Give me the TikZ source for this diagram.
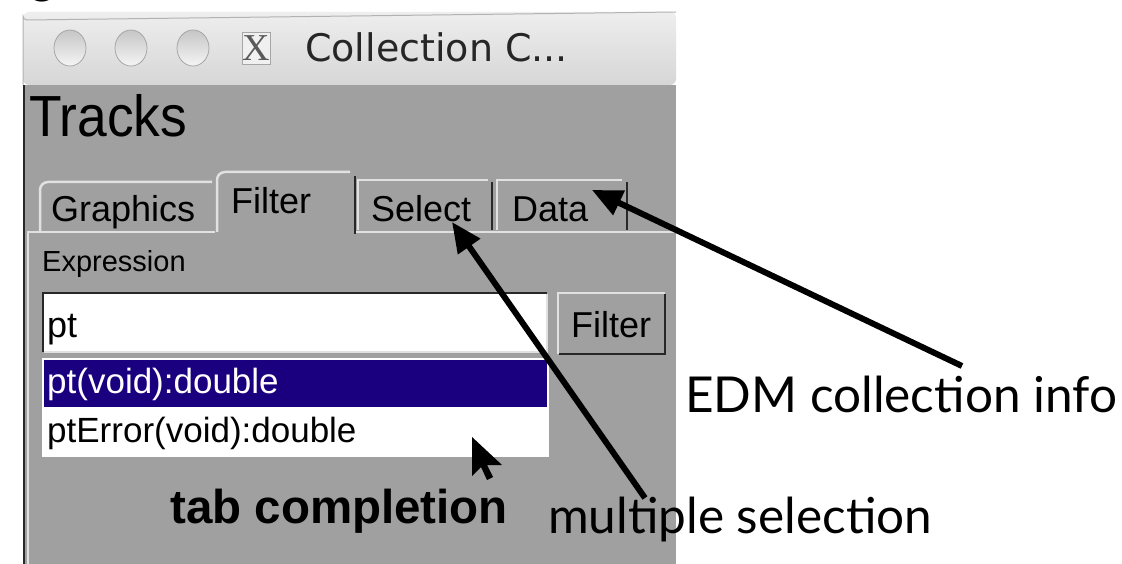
\documentclass[tikz,border=0pt]{standalone}
\usepackage{fontspec}
\setmainfont{Liberation Sans}
\newfontfamily\gill{Lato}
\newfontfamily\titlef{DejaVu Sans}
\newfontfamily\serifx{Liberation Serif}
\newfontfamily\narrowf[FakeStretch=0.92]{Liberation Sans}
\usetikzlibrary{arrows.meta}
\definecolor{panelgray}{RGB}{160,160,160}
\definecolor{lightedge}{RGB}{225,225,225}
\definecolor{darkedge}{RGB}{40,40,40}
\definecolor{selnavy}{RGB}{26,0,126}
\definecolor{titletop}{RGB}{238,238,238}
\definecolor{titlebot}{RGB}{214,214,214}
\tikzset{
  x=1pt, y=-1pt,
  lbl/.style={inner sep=0pt, anchor=base west},
  tabtxt/.style={lbl, font=\fontsize{36}{36}\selectfont},
  ann/.style={lbl, font=\gill\fontsize{49.5}{49.5}\selectfont},
  pointer/.style={line width=6pt, -{Triangle[length=30pt,width=26pt]}},
  light/.style={draw=lightedge, line width=2.5pt},
  dark/.style={draw=darkedge, line width=2.5pt},
  lamp/.style={top color=gray!45, bottom color=gray!8}
}
\begin{document}
\begin{tikzpicture}
\useasboundingbox (0,0) rectangle (1122,564);
\fill[white] (0,0) rectangle (1122,564);
% cut-off text at top
\node[lbl, font=\gill\fontsize{47}{47}\selectfont] (topg) at (30,-6) {g};
% title bar
\shade[top color=titletop, bottom color=titlebot, rounded corners=6pt]
  (23,85) -- (23,12) -- (676,12) -- (676,85) -- cycle;
\draw[gray!60, line width=1pt] (23,85) -- (23,16) arc (180:270:4pt) -- (676,12);
% body
\fill[panelgray] (23,85) rectangle (676,564);
\draw[darkedge, line width=2pt] (24,85) -- (24,564);
% lamps
\shade[lamp] (70,48) ellipse [x radius=16, y radius=18];
\draw[gray!70, line width=0.8pt] (70,48) ellipse [x radius=16, y radius=18];
\shade[lamp] (131,48) ellipse [x radius=16, y radius=18];
\draw[gray!70, line width=0.8pt] (131,48) ellipse [x radius=16, y radius=18];
\shade[lamp] (193,48) ellipse [x radius=16, y radius=18];
\draw[gray!70, line width=0.8pt] (193,48) ellipse [x radius=16, y radius=18];
\node[draw=gray!70, fill=gray!12, minimum width=26pt, minimum height=32pt, inner sep=0pt,
  font=\serifx\fontsize{38}{38}\selectfont, text=gray!70!black] (xbox) at (256,48) {X};
\node[lbl, font=\titlef\fontsize{38}{38}\selectfont, text=black!85] (title) at (305,62) {Collection C...};
% Tracks
\node[lbl, font=\narrowf\fontsize{58}{58}\selectfont] (tracks) at (29,137) {Tracks};
% tabs
\draw[light] (215,232) -- (28,232) -- (28,564);
\draw[light] (356,232) -- (676,232);
\draw[light] (40,232) -- (40,190) to[out=90,in=180] (48,182) -- (212,182);
\draw[light] (217,232) -- (217,180) to[out=90,in=180] (225,172) -- (350,172);
\draw[dark] (355,176) -- (355,234);
\draw[light] (358,230) -- (358,180) -- (488,180);
\draw[dark] (492,182) -- (492,230);
\draw[light] (497,230) -- (497,180) -- (622,180);
\draw[dark] (627,182) -- (627,230);
\node[tabtxt] (tgraph) at (51,222) {Graphics};
\node[tabtxt] (tfilter) at (231,214) {Filter};
\node[tabtxt] (tselect) at (371,222) {Select};
\node[tabtxt] (tdata) at (512,222) {Data};
% expression
\node[lbl, font=\fontsize{29}{29}\selectfont] (expr) at (42,271) {Expression};
\fill[white] (42,292) rectangle (547,352);
\draw[dark] (43,352) -- (43,293) -- (547,293);
\draw[light] (44,352) -- (547,352) -- (547,294);
\node[lbl, font=\fontsize{36}{36}\selectfont] (ptfield) at (47,337) {pt};
\fill[panelgray] (557,292) rectangle (665,355);
\draw[light] (558,354) -- (558,293) -- (665,293);
\draw[dark] (559,354) -- (665,354) -- (665,294);
\node[lbl, font=\fontsize{36}{36}\selectfont] (fbtn) at (571,337) {Filter};
% completion list
\fill[white] (42,358) rectangle (549,457);
\fill[selnavy] (44,360) rectangle (547,407);
\node[lbl, font=\fontsize{35}{35}\selectfont, text=white] (opt1) at (47,393) {pt(void):double};
\node[lbl, font=\fontsize{35}{35}\selectfont] (opt2) at (47,442) {ptError(void):double};
% mouse cursor
\fill[black] (472,437) -- (472,476) -- (481,467) -- (487,480) -- (493,477) -- (487,465) -- (502,465) -- cycle;
% annotations
\node[lbl, font=\bfseries\fontsize{47.5}{47.5}\selectfont] (tabc) at (170,523) {tab completion};
\node[ann] (multi) at (548,533) {multiple selection};
\node[ann] (edm) at (685,412) {EDM collection info};
\coordinate (multistart) at (645,498);
\coordinate (selecttip) at (452,222);
\coordinate (edmstart) at (962,366);
\coordinate (datatip) at (592,190);
\draw[pointer] (multistart) -- (selecttip);
\draw[pointer] (edmstart) -- (datatip);
\end{tikzpicture}
\end{document}
